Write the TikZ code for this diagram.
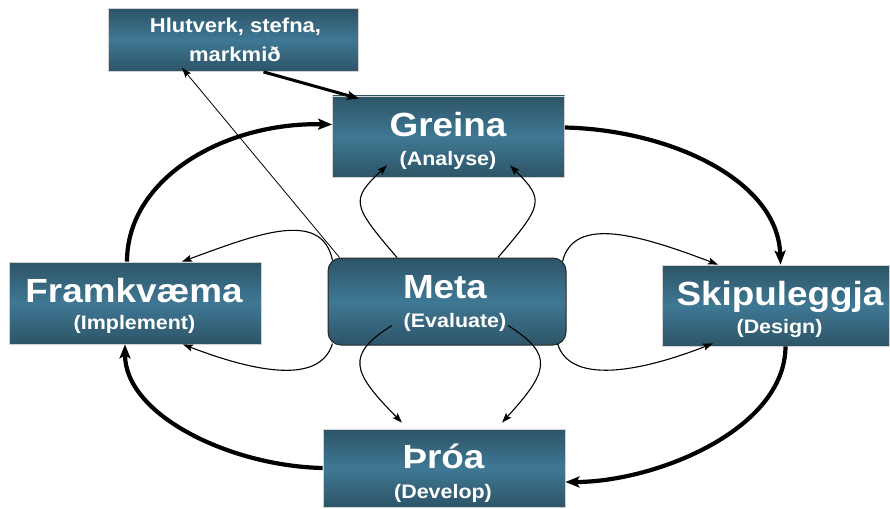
\documentclass[tikz,border=0pt]{standalone}
\usepackage{fontspec}
\newfontfamily\lab{Liberation Sans}[FakeStretch=1.1]
\usetikzlibrary{arrows.meta}

\definecolor{boxedge}{HTML}{2D5467}
\definecolor{boxmid}{HTML}{3F7894}

\tikzset{
  stage/.style={rectangle, draw=gray!35, line width=0.8pt,
    top color=boxedge, bottom color=boxedge, middle color=boxmid, inner sep=0pt},
  title/.style={text=white, font=\lab\bfseries\fontsize{33.5}{36}\selectfont, anchor=base, inner sep=0pt},
  sub/.style={text=white, font=\lab\bfseries\fontsize{19.5}{22}\selectfont, anchor=base, inner sep=0pt},
  toptext/.style={text=white, font=\lab\bfseries\fontsize{20}{22}\selectfont, anchor=base, inner sep=0pt},
  cycle arrow/.style={line width=4.2pt, -{Stealth[length=14pt,width=11pt,inset=3pt]}},
  feed arrow/.style={line width=3pt, -{Stealth[length=12pt,width=9pt,inset=2.5pt]}},
  link/.style={line width=1.1pt, -{Stealth[length=10pt,width=7pt,inset=2pt]}},
  thin link/.style={line width=0.8pt, -{Stealth[length=10pt,width=7pt,inset=2pt]}},
}

\begin{document}
\begin{tikzpicture}[x=1pt,y=-1pt]
\useasboundingbox (0,0) rectangle (890,508);

% boxes
\node[stage, minimum width=250pt, minimum height=63pt] (hlut) at (233.5,40) {};
\node[stage, minimum width=232pt, minimum height=81pt] (grei) at (448.5,136.5) {};
\node[stage, minimum width=252pt, minimum height=82pt] (fram) at (135,303) {};
\node[stage, minimum width=227pt, minimum height=81pt] (skip) at (775.5,305.5) {};
\node[stage, minimum width=242pt, minimum height=78pt] (throa) at (444,468) {};
\node[stage, draw=black!85, line width=1pt, rounded corners=13pt,
      minimum width=238pt, minimum height=87pt] (meta) at (447,301.5) {};

% labels
\node[toptext] (hlutA) at (235.5,33) {Hlutverk, stefna,};
\node[toptext] (hlutB) at (235,61.5) {markmið};
\node[title] (greiT) at (448,136) {Greina};
\node[sub]   (greiS) at (448,165) {(Analyse)};
\node[title] (metaT) at (445,298) {Meta};
\node[sub]   (metaS) at (455,327) {(Evaluate)};
\node[title] (framT) at (134,302) {Framkvæma};
\node[sub]   (framS) at (134.5,329) {(Implement)};
\node[title] (skipT) at (780,305) {Skipuleggja};
\node[sub]   (skipS) at (779.5,333) {(Design)};
\node[title] (throaT) at (443.5,468) {Þróa};
\node[sub]   (throaS) at (443,498) {(Develop)};

% outer cycle
\draw[cycle arrow] ([xshift=-8pt]fram.north) .. controls (127,178) and (225,122) .. ([yshift=12pt]grei.west);
\draw[cycle arrow] ([yshift=9pt]grei.east) .. controls (670,130) and (778,180) .. ([xshift=5pt]skip.north);
\draw[cycle arrow] ([xshift=10pt]skip.south) .. controls (785,430) and (655,482) .. ([yshift=-14pt]throa.east);
\draw[cycle arrow] (throa.west) .. controls (230,466) and (125,415) .. ([xshift=-10pt]fram.south);

% mission box
\draw[feed arrow] ([xshift=30pt]hlut.south) -- ([shift={(27pt,-3pt)}]grei.north west);
\draw[thin link] ([xshift=12pt]meta.north west) -- ([shift={(-51.5pt,4pt)}]hlut.south);

% evaluation links
\draw[link] ([xshift=-50pt]meta.north) .. controls (352,205) and (350,200) .. ([shift={(-61.5pt,12pt)}]grei.south);
\draw[link] ([xshift=51pt]meta.north) .. controls (543,205) and (545,200) .. ([shift={(61.5pt,12pt)}]grei.south);
\draw[link] ([shift={(-55pt,20pt)}]meta.south) .. controls (345,355) and (352,372) .. ([shift={(-42pt,6pt)}]throa.north);
\draw[link] ([shift={(61pt,20pt)}]meta.south) .. controls (555,355) and (548,372) .. ([shift={(58pt,6pt)}]throa.north);
\draw[link] ([shift={(5pt,-3pt)}]meta.north west) .. controls (322,208) and (255,235) .. ([xshift=47pt]fram.north);
\draw[link] ([shift={(5pt,2pt)}]meta.south west) .. controls (320,385) and (255,372) .. ([xshift=48pt]fram.south);
\draw[link] ([shift={(-4pt,-4pt)}]meta.north east) .. controls (574,215) and (640,235) .. ([xshift=-57.5pt]skip.north);
\draw[link] ([shift={(-9pt,2pt)}]meta.south east) .. controls (570,385) and (640,372) .. ([shift={(-62.5pt,3pt)}]skip.south);
\end{tikzpicture}
\end{document}
